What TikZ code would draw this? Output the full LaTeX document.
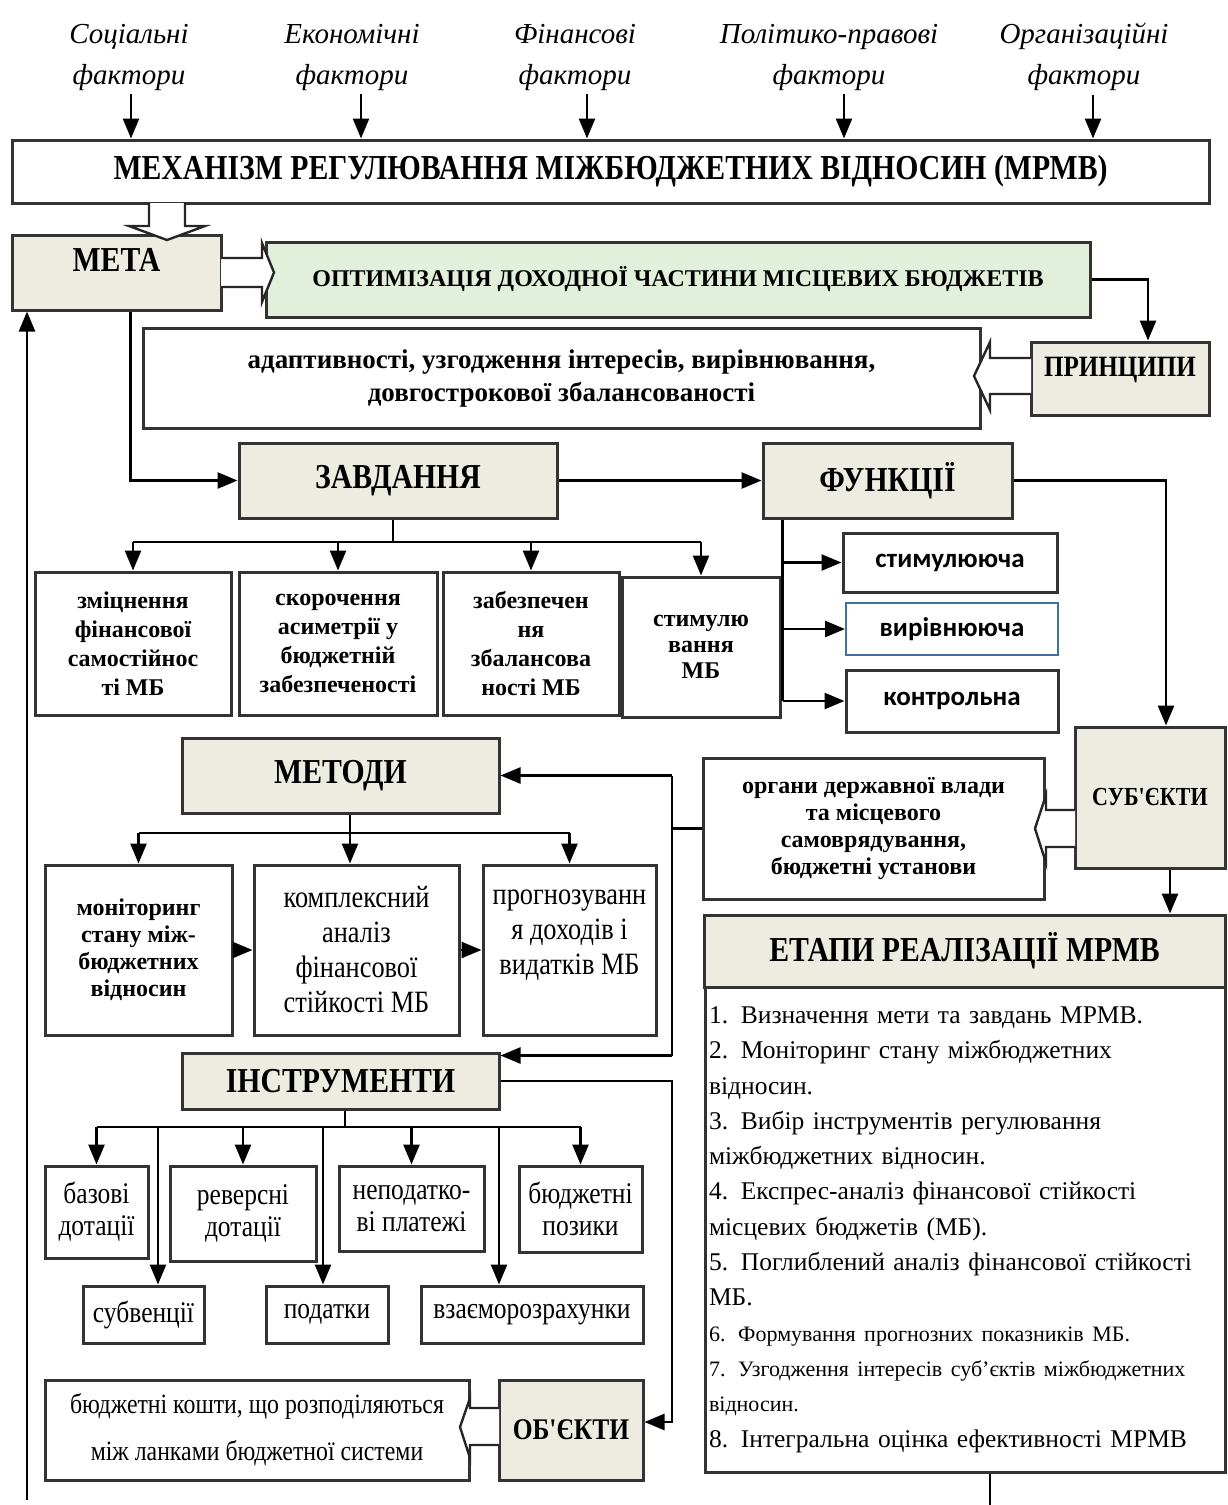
\documentclass[tikz,border=0pt]{standalone}
\usepackage{fontspec}
\setmainfont{Liberation Serif}
\newfontfamily\condfont{Liberation Serif}[FakeStretch=0.85]
\newfontfamily\funcfont{Carlito}
\usetikzlibrary{arrows.meta}
\definecolor{beige}{HTML}{EEECE1}
\definecolor{palegreen}{HTML}{E2EFDA}
\definecolor{boxblue}{HTML}{41719C}
\newcommand{\fsz}[2]{\fontsize{#1}{#2}\selectfont}

\begin{document}
\begin{tikzpicture}[x=1pt,y=-1pt]
    \tikzstyle{every node}+=[inner sep=0pt, align=center]
    \tikzstyle{hdr}=[draw=black!80, line width=3pt, fill=beige, font=\condfont\bfseries\fsz{35}{40}]
    \tikzstyle{wbox}=[draw=black!80, line width=3pt, fill=white]
    \tikzstyle{conn}=[line width=2.6pt]
    \tikzstyle{arr}=[conn, -{Triangle[width=16pt,length=20pt]}]
    \tikzstyle{hollow}=[draw=black!85, line width=2.4pt, fill=white]
    \tikzstyle{factor}=[font=\itshape\fsz{29}{41}]
    \tikzstyle{task}=[wbox, minimum height=143pt, font=\bfseries\fsz{24}{29}]
    \tikzstyle{func}=[wbox, minimum width=212pt, font=\funcfont\bfseries\fsz{27}{30}]
    \tikzstyle{meth}=[wbox, minimum height=170pt, font=\condfont\fsz{31}{35}]
    \tikzstyle{tool}=[wbox, font=\condfont\fsz{30}{32}]
    \useasboundingbox (0,0) rectangle (1227,1505);

    \node[factor] (f1) at (129,57) {Соціальні\\фактори};
    \node[factor] (f2) at (352,57) {Економічні\\фактори};
    \node[factor] (f3) at (575,57) {Фінансові\\фактори};
    \node[factor] (f4) at (829,57) {Політико-правові\\фактори};
    \node[factor] (f5) at (1084,57) {Організаційні\\фактори};
    \node[hdr, fill=white, minimum width=1197pt, minimum height=63pt] (mrmv) at (610.5,171.5) {МЕХАНІЗМ РЕГУЛЮВАННЯ МІЖБЮДЖЕТНИХ ВІДНОСИН (МРМВ)};
    \foreach \f/\dx in {f1/2,f2/9,f3/12,f4/15,f5/9}
        \draw[arr, shorten <=4pt] ([xshift=\dx pt]\f.south) -- ([xshift=\dx pt]\f.south |- mrmv.north);

    \node[hdr, minimum width=209pt, minimum height=75pt, text depth=26pt] (meta) at (116.5,272.5) {МЕТА};
    \node[wbox, fill=palegreen, minimum width=824pt, minimum height=75pt, font=\bfseries\fsz{24}{28}] (optim) at (678,279.5) {ОПТИМІЗАЦІЯ ДОХОДНОЇ ЧАСТИНИ МІСЦЕВИХ БЮДЖЕТІВ};
    \node[hdr, minimum width=178pt, minimum height=73pt, text depth=24pt, font=\condfont\bfseries\fsz{29.5}{34}] (pryn) at (1120,378.5) {ПРИНЦИПИ};
    \node[wbox, minimum width=837pt, minimum height=100pt, font=\bfseries\fsz{27}{33}] (prtext) at (561.5,378) {адаптивності, узгодження інтересів, вирівнювання,\\довгострокової збалансованості};
    \node[hdr, minimum width=318pt, minimum height=75pt] (zavd) at (398,480.5) {ЗАВДАННЯ};
    \node[hdr, minimum width=249pt, minimum height=75pt] (funk) at (887.5,480.5) {ФУНКЦІЇ};

    \node[task, minimum width=196pt] (z1) at (133,643.5) {зміцнення\\фінансової\\самостійнос\\ті МБ};
    \node[task, minimum width=198pt] (z2) at (338,643.5) {скорочення\\асиметрії у\\бюджетній\\забезпеченості};
    \node[task, minimum width=176pt] (z3) at (531,643.5) {забезпечен\\ня\\збалансова\\ності МБ};
    \node[task, minimum width=158pt, minimum height=140pt, font=\bfseries\fsz{24}{26}] (z4) at (701,647) {стимулю\\вання\\МБ};

    \node[func, minimum width=214pt, minimum height=59pt] (fstym) at (950,562.5) {стимулююча};
    \node[func, draw=boxblue, line width=2pt, minimum height=52pt] (fvyr) at (952,629) {вирівнююча};
    \node[func, minimum height=62pt] (fkontr) at (952,701) {контрольна};

    \node[hdr, minimum width=150pt, minimum height=141pt, font=\condfont\bfseries\fsz{26}{30}] (subj) at (1150,797.5) {СУБ'ЄКТИ};
    \node[wbox, minimum width=341pt, minimum height=141pt, font=\bfseries\fsz{24}{27}] (organy) at (873.5,828.5) {органи державної влади\\та місцевого\\самоврядування,\\бюджетні установи};

    \node[hdr, minimum width=317pt, minimum height=75pt] (metody) at (340.5,775.5) {МЕТОДИ};
    \node[wbox, minimum width=187pt, minimum height=170pt, font=\bfseries\fsz{24}{27}] (m1) at (138.5,950) {моніторинг\\стану між-\\бюджетних\\відносин};
    \node[meth, minimum width=205pt] (m2) at (356.5,950) {комплексний\\аналіз\\фінансової\\стійкості МБ};
    \node[meth, minimum width=173pt] (m3) at (569.5,950) {прогнозуванн\\я доходів і\\видатків МБ\\~};

    \node[hdr, minimum width=317pt, minimum height=56pt] (instr) at (340.5,1081) {ІНСТРУМЕНТИ};
    \node[tool, minimum width=103pt, minimum height=92pt] (i1) at (96.5,1212) {базові\\дотації};
    \node[tool, minimum width=146pt, minimum height=95pt] (i2) at (243,1213.5) {реверсні\\дотації};
    \node[tool, minimum width=145pt, minimum height=85pt] (i3) at (411.5,1208.5) {неподатко-\\ві платежі};
    \node[tool, minimum width=123pt, minimum height=86pt] (i4) at (580.5,1209) {бюджетні\\позики};
    \node[tool, minimum width=121pt, minimum height=57pt] (i5) at (143.5,1314.5) {субвенції};
    \node[tool, minimum width=122pt, minimum height=57pt] (i6) at (327,1314.5) {податки};
    \node[tool, minimum width=222pt, minimum height=57pt] (i7) at (532,1314.5) {взаєморозрахунки};

    \node[wbox, minimum width=424pt, minimum height=100pt, font=\condfont\fsz{28}{47}] (objtext) at (257,1430) {бюджетні кошти, що розподіляються\\між ланками бюджетної системи};
    \node[hdr, minimum width=144pt, minimum height=100pt, font=\condfont\bfseries\fsz{30}{34}] (obj) at (571,1430) {ОБ'ЄКТИ};

    \node[hdr, minimum width=521pt, minimum height=72pt] (etapy) at (964.5,951) {ЕТАПИ РЕАЛІЗАЦІЇ МРМВ};
    \node[wbox, minimum width=520pt, minimum height=485pt, text width=512pt, align=left, font=\fsz{25.5}{35.3}] (steps) at (965,1229.5) {1. Визначення мети та завдань МРМВ.\\
        2. Моніторинг стану міжбюджетних\\
        відносин.\\
        3. Вибір інструментів регулювання\\
        міжбюджетних відносин.\\
        4. Експрес-аналіз фінансової стійкості\\
        місцевих бюджетів (МБ).\\
        5. Поглиблений аналіз фінансової стійкості\\
        МБ.\\
        {\fsz{22}{35.3}6. Формування прогнозних показників МБ.\\
        7. Узгодження інтересів суб'єктів міжбюджетних\\
        відносин.}\\
        8. Інтегральна оцінка ефективності МРМВ};

    % block arrows
    \draw[hollow] (149,203) -- (149,226) -- (129,226) -- (167,240) -- (205,226) -- (185,226) -- (185,203);
    \draw[hollow] (221,258) -- (262,258) -- (262,243) -- (274,272.5) -- (262,302) -- (262,287) -- (221,287);
    \draw[hollow] (1031,358) -- (990,358) -- (990,342) -- (974,376) -- (990,410) -- (990,394) -- (1031,394);
    \draw[hollow] (1075,810) -- (1046,810) -- (1046,795) -- (1035,828.5) -- (1046,863) -- (1046,847) -- (1075,847);
    \draw[hollow] (499,1408) -- (470,1408) -- (470,1398) -- (460,1427) -- (470,1458) -- (470,1445) -- (499,1445);

    \draw[arr] (optim.east) -| ([xshift=28pt]pryn.north);
    \draw[arr] ([xshift=14pt]meta.south) |- (zavd.west);
    \draw[arr] (zavd.east) -- (funk.west);
    \draw[arr] (funk.east) -| ([xshift=16pt]subj.north);

    \coordinate (zbus) at (393,542);
    \draw[conn] (zbus |- zavd.south) -- (zbus);
    \draw[conn] (zbus -| z1.north) -- (zbus -| z4.north);
    \foreach \n in {z1,z2,z3,z4}
        \draw[arr] (zbus -| \n.north) -- (\n.north);

    \coordinate (fstem) at ([xshift=21pt]funk.south west);
    \draw[conn] (fstem) -- (fstem |- fkontr.west);
    \foreach \n in {fstym,fvyr,fkontr}
        \draw[arr] (fstem |- \n.west) -- (\n.west);

    \draw[arr] ([xshift=20pt]subj.south) -- ([xshift=20pt]subj.south |- etapy.north);

    \coordinate (rail) at (672,0);
    \draw[conn] (organy.west) -- (organy.west -| rail);
    \draw[conn] (rail |- metody.east) -- ([yshift=-4pt]rail |- instr.north);
    \draw[arr] (rail |- metody.east) -- (metody.east);
    \draw[arr] ([yshift=-4pt]rail |- instr.north) -- ([yshift=-4pt]instr.north east);
    \draw[arr] (instr.east) -- (instr.east -| rail) |- ([yshift=8pt]obj.east);

    \coordinate (mbus) at (350,833);
    \draw[conn] (mbus -| m1.north) -- (mbus -| m3.north);
    \draw[arr] (mbus |- metody.south) -- (mbus |- m2.north);
    \foreach \n in {m1,m3}
        \draw[arr] (mbus -| \n.north) -- (\n.north);
    \draw[arr] (m1.east) -- (m2.west);
    \draw[arr] (m2.east) -- (m3.west);

    \coordinate (ibus) at (345,1127);
    \draw[conn] (ibus |- instr.south) -- (ibus);
    \draw[conn] (ibus -| i1.north) -- (ibus -| i4.north);
    \foreach \n in {i1,i2,i3,i4}
        \draw[arr] (ibus -| \n.north) -- (\n.north);
    \foreach \n/\dx in {i5/14.5,i6/-4,i7/-33}
        \draw[arr] ([xshift=\dx pt]ibus -| \n.north) -- ([xshift=\dx pt]\n.north);

    \coordinate (loop) at (27,1500);
    \draw[arr] (loop) -- (loop |- meta.south);
    \coordinate (tail) at (990,1505);
    \draw[conn] (tail |- steps.south) -- (tail);
\end{tikzpicture}
\end{document}
